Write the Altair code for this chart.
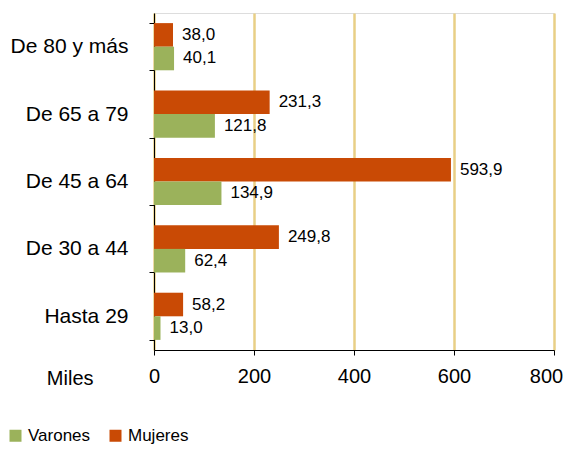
import altair as alt
import pandas as pd

categorias = ["De 80 y más", "De 65 a 79", "De 45 a 64", "De 30 a 44", "Hasta 29"]
mujeres = [38.0, 231.3, 593.9, 249.8, 58.2]
varones = [40.1, 121.8, 134.9, 62.4, 13.0]
series = ["Varones", "Mujeres"]
colores = ["#9BB25B", "#C94A05"]
ticks_x = [0, 200, 400, 600, 800]

rows = []
for c, m, v in zip(categorias, mujeres, varones):
    rows.append({"cat": c, "sexo": "Mujeres", "valor": m})
    rows.append({"cat": c, "sexo": "Varones", "valor": v})
df = pd.DataFrame(rows)

FONT = "Liberation Sans"

y_enc = alt.Y("cat:N", sort=categorias,
              scale=alt.Scale(paddingInner=0.3, paddingOuter=0.15),
              axis=alt.Axis(title=None, labelFontSize=21, labelFont=FONT, labelColor="#000000",
                            labelPadding=21, tickSize=5, tickColor="#000000", domainColor="#000000",
                            tickBand="extent", grid=False, labelLimit=200))
x_enc = alt.X("valor:Q", scale=alt.Scale(domain=[0, 800], nice=False),
              axis=alt.Axis(values=ticks_x, title="Miles", titleFont=FONT, titleFontSize=20,
                            titleFontWeight="normal", titleColor="#000000",
                            titleX=-61, titleY=28, titleAlign="right", titleBaseline="middle",
                            titleAnchor="start", labelFont=FONT,
                            labelFontSize=20, labelColor="#000000", labelPadding=11, tickSize=5,
                            tickColor="#000000", domainColor="#000000",
                            labelOffset={"condition": {"test": "datum.value == 800", "value": -8},
                                         "value": 0},
                            grid=True, gridColor="#E8CF86", gridWidth=2.5,
                            labelFlush=False))

bars = alt.Chart(df).mark_bar().encode(
    x=x_enc,
    y=y_enc,
    yOffset=alt.YOffset("sexo:N", sort=["Mujeres", "Varones"]),
    color=alt.Color("sexo:N", scale=alt.Scale(domain=series, range=colores),
                    legend=alt.Legend(title=None, orient="none", legendX=-147, legendY=414,
                                      direction="horizontal", symbolType="square",
                                      symbolSize=144, symbolStrokeWidth=0, labelFont=FONT,
                                      labelFontSize=17, labelColor="#000000",
                                      columnPadding=16, labelOffset=4, padding=0)),
)

labels = alt.Chart(df).transform_calculate(
    txt="replace(format(datum.valor, '.1f'), '.', ',')"
).mark_text(align="left", baseline="middle", dx=9, font=FONT, fontSize=17, color="#000000").encode(
    x="valor:Q",
    y=alt.Y("cat:N", sort=categorias),
    yOffset=alt.YOffset("sexo:N", sort=["Mujeres", "Varones"]),
    text="txt:N",
)

chart = alt.layer(bars, labels).properties(
    width=400, height=337,
    autosize=alt.AutoSizeParams(type="none"),
    padding={"left": 146, "top": 5, "right": 9, "bottom": 94},
).configure_view(stroke=None).configure(background="#FFFFFF")

chart.save("out.html", embed_options={"renderer": "svg", "actions": False})
